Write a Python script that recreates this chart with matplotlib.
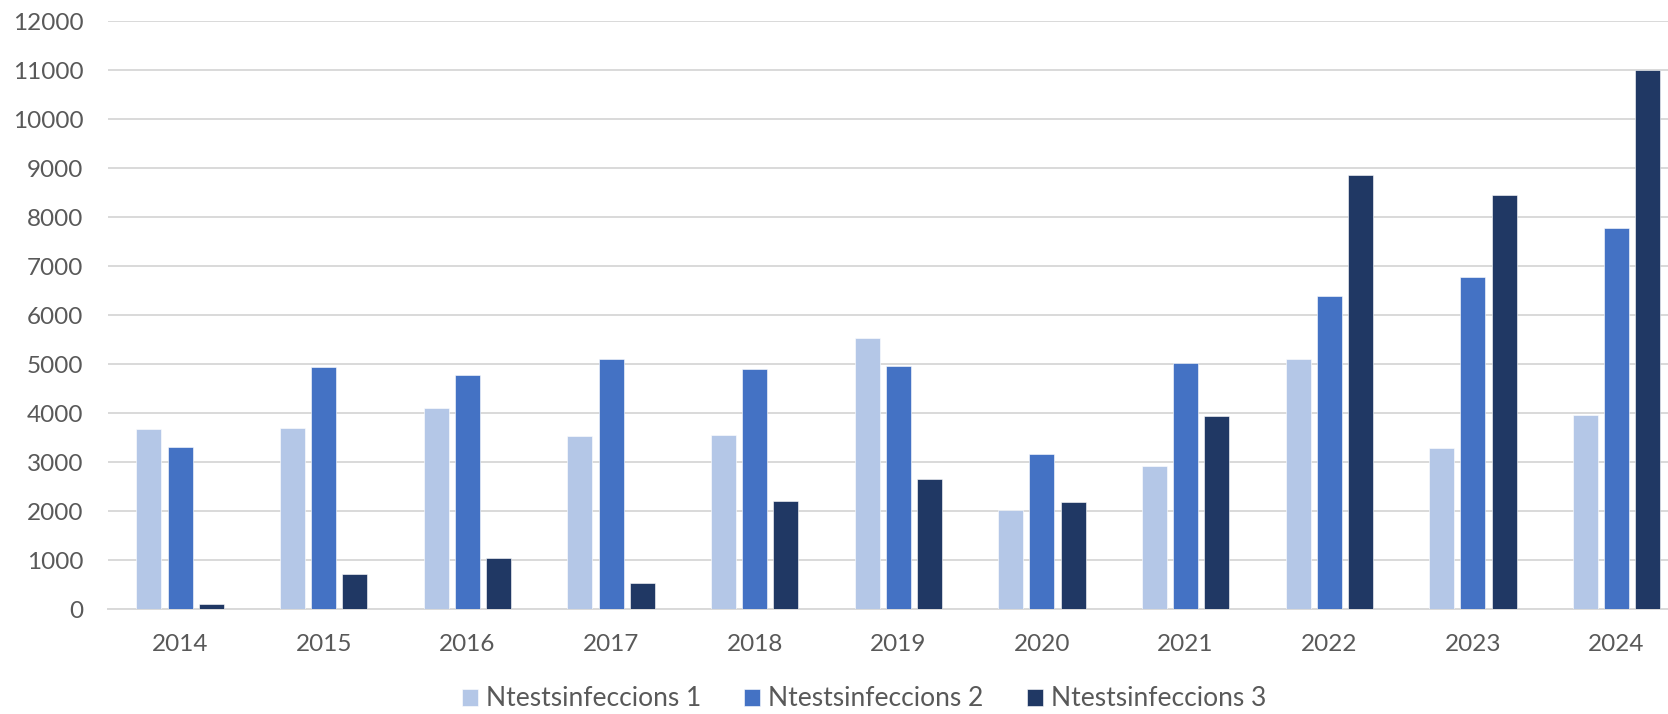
import matplotlib.pyplot as plt
import numpy

# donnees
annees = ['2014', '2015', '2016', '2017', '2018', '2019', '2020', '2021', '2022', '2023', '2024']
ntests_1 = [3670, 3700, 4110, 3530, 3550, 5540, 2030, 2910, 5110, 3290, 3950]
ntests_2 = [3310, 4930, 4780, 5110, 4900, 4970, 3160, 5030, 6380, 6770, 7770]
ntests_3 = [110, 720, 1040, 530, 2200, 2660, 2190, 3940, 8860, 8460, 11000]
noms_series = ['Ntestsinfeccions 1', 'Ntestsinfeccions 2', 'Ntestsinfeccions 3']

couleurs = ['#B4C7E7', '#4472C4', '#203864']
gris_texte = '#595959'
gris_grille = '#D9D9D9'

plt.rcParams['font.family'] = ['Lato', 'DejaVu Sans']

fig = plt.figure(figsize=(16.68, 7.14), dpi=100)
# l'axe deborde a droite : le graphique original est coupe
ax = fig.add_axes([0.0649, 0.147, 0.9473, 0.8235])

x = numpy.arange(len(annees))
largeur = 0.174
ecart = 0.217
for i, (valeurs, nom) in enumerate(zip([ntests_1, ntests_2, ntests_3], noms_series)):
	ax.bar(x + (i - 1) * ecart, valeurs, largeur, color=couleurs[i], label=nom,
		edgecolor='white', linewidth=0.4, zorder=3)

ax.set_xlim(-0.5, len(annees) - 0.5)
ax.set_ylim(0, 12000)
ax.set_yticks(range(0, 12001, 1000))
ax.set_xticks(x)
ax.set_xticklabels(annees)

ax.grid(axis='y', color=gris_grille, linewidth=1.4, zorder=0)
for cote in ['top', 'right', 'left']:
	ax.spines[cote].set_visible(False)
ax.spines['bottom'].set_color(gris_grille)
ax.spines['bottom'].set_linewidth(1.4)

ax.tick_params(axis='both', length=0, labelsize=17.5, labelcolor=gris_texte)
ax.tick_params(axis='y', pad=18)
ax.tick_params(axis='x', pad=18)

fig.legend(loc='center', bbox_to_anchor=(0.518, 1 - 699 / 714), ncol=3, frameon=False,
	fontsize=19, labelcolor=gris_texte, handlelength=0.6, handleheight=0.6,
	handletextpad=0.3, columnspacing=1.65)

plt.savefig('out.png', dpi=100)
